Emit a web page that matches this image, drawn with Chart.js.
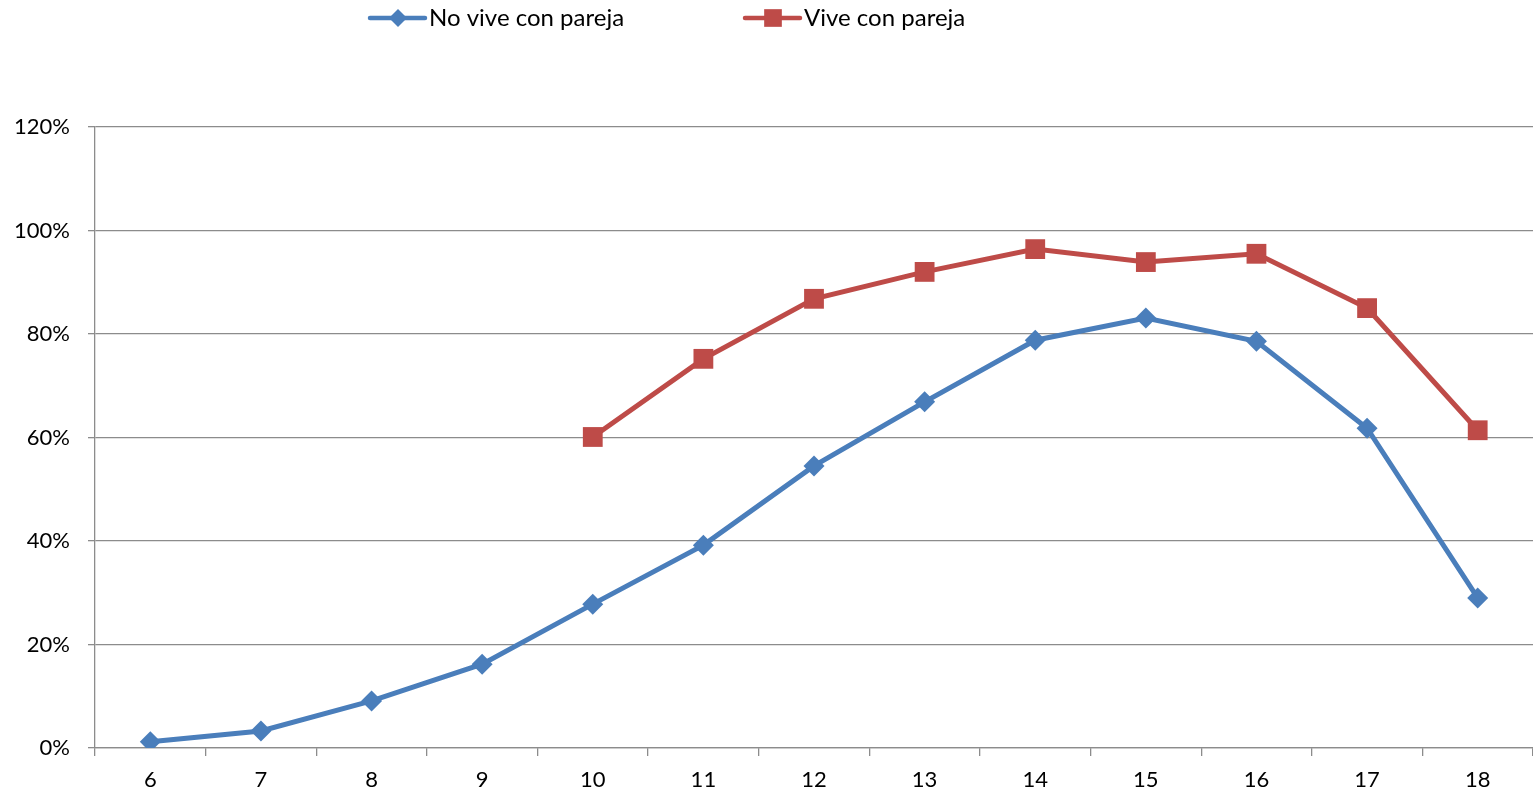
<!DOCTYPE html>
<html>
<head>
<meta charset="utf-8">
<script src="https://cdn.jsdelivr.net/npm/chart.js@4"></script>
<style>
  html, body { margin: 0; padding: 0; background: #fff; }
  #wrap { width: 1533px; height: 797px; }
</style>
</head>
<body>
<div id="wrap"><canvas id="chart" width="1533" height="797"></canvas></div>
<script>
// chart values
const ages = ['6', '7', '8', '9', '10', '11', '12', '13', '14', '15', '16', '17', '18'];
const noViveConPareja = [1.2, 3.3, 9.1, 16.2, 27.8, 39.2, 54.5, 66.9, 78.8, 83.1, 78.6, 61.8, 29.0];
const viveConPareja = [null, null, null, null, 60.1, 75.2, 86.8, 92.0, 96.4, 93.9, 95.5, 85.0, 61.4];
const seriesNames = ['No vive con pareja', 'Vive con pareja'];

const BLUE = '#4a7ebb';
const RED = '#be4b48';
const GRID = '#8c8c8c';
const FONT = 'Lato, "Open Sans", sans-serif';

// legend drawn by hand: line with marker, like the spreadsheet style
const lineLegend = {
  id: 'lineLegend',
  afterDraw(chart) {
    const ctx = chart.ctx;
    const items = [
      { x: 370, color: BLUE, style: 'rectRot', radius: 9, text: seriesNames[0] },
      { x: 745, color: RED, style: 'rect', radius: 12.5, text: seriesNames[1] }
    ];
    const y = 18;
    ctx.save();
    items.forEach(function(it) {
      ctx.strokeStyle = it.color;
      ctx.lineWidth = 4.5;
      ctx.lineCap = 'round';
      ctx.beginPath();
      ctx.moveTo(it.x, y);
      ctx.lineTo(it.x + 55, y);
      ctx.stroke();
      ctx.fillStyle = it.color;
      Chart.helpers.drawPoint(ctx, { pointStyle: it.style, radius: it.radius, borderWidth: 0 }, it.x + 28, y);
      ctx.fillStyle = '#000';
      ctx.font = '24px ' + FONT;
      ctx.textBaseline = 'middle';
      ctx.textAlign = 'left';
      ctx.fillText(it.text, it.x + 59, y);
    });
    ctx.restore();
  }
};

new Chart(document.getElementById('chart'), {
  type: 'line',
  data: {
    labels: ages,
    datasets: [
      {
        label: seriesNames[0],
        data: noViveConPareja,
        borderColor: BLUE,
        backgroundColor: BLUE,
        borderWidth: 5,
        pointStyle: 'rectRot',
        pointRadius: 10.5,
        pointHoverRadius: 10.5,
        pointBorderWidth: 0,
        tension: 0
      },
      {
        label: seriesNames[1],
        data: viveConPareja,
        borderColor: RED,
        backgroundColor: RED,
        borderWidth: 5,
        pointStyle: 'rect',
        pointRadius: 14,
        pointHoverRadius: 14,
        pointBorderWidth: 0,
        tension: 0
      }
    ]
  },
  options: {
    responsive: false,
    animation: false,
    layout: { autoPadding: false, padding: { top: 127, right: 0, left: 0, bottom: 0 } },
    plugins: {
      legend: { display: false },
      tooltip: { enabled: false }
    },
    scales: {
      x: {
        offset: true,
        grid: {
          offset: true,
          drawOnChartArea: false,
          drawTicks: true,
          tickLength: 8,
          color: GRID,
          lineWidth: 1.3
        },
        border: { color: GRID, width: 1.3 },
        ticks: {
          color: '#000',
          font: { family: FONT, size: 22 },
          padding: 11,
          maxRotation: 0
        },
        afterFit(scale) {
          scale.height = 49;
          scale.paddingRight = 0;
          scale.paddingLeft = 0;
        }
      },
      y: {
        min: 0,
        max: 120,
        ticks: {
          stepSize: 20,
          color: '#000',
          font: { family: FONT, size: 22 },
          padding: 18,
          callback: function(v) { return v + '%'; }
        },
        grid: {
          color: GRID,
          lineWidth: 1.3,
          tickLength: 7
        },
        border: { color: GRID, width: 1.3 },
        afterFit(scale) { scale.width = 95; }
      }
    }
  },
  plugins: [lineLegend]
});
</script>
</body>
</html>
